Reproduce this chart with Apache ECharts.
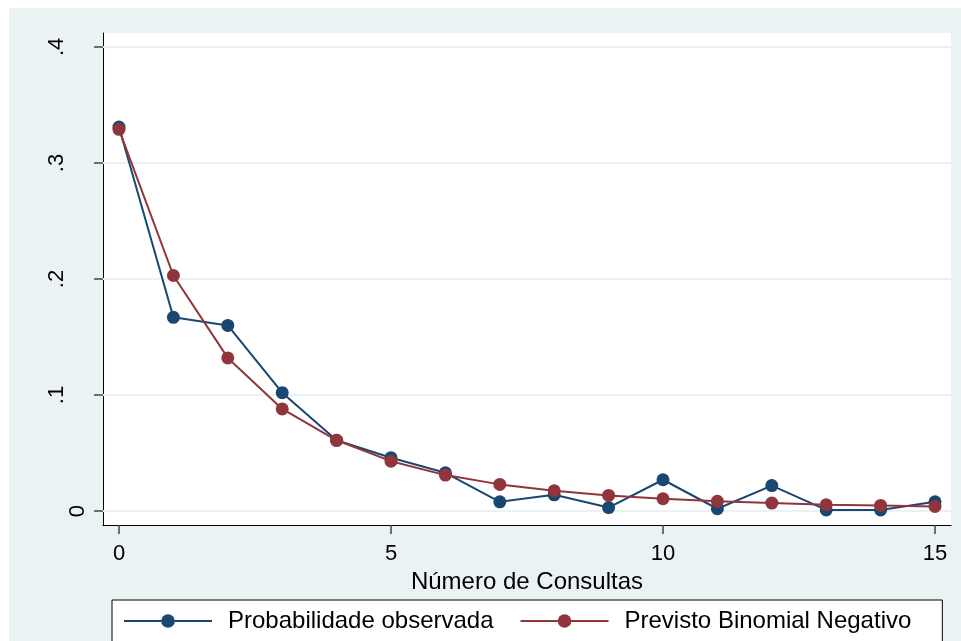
<!DOCTYPE html>
<html>
<head>
<meta charset="utf-8">
<script src="https://cdn.jsdelivr.net/npm/echarts@6/dist/echarts.min.js"></script>
<style>
  html, body { margin: 0; padding: 0; background: #ffffff; }
  #chart { position: absolute; left: 9px; top: 8px; width: 952px; height: 633px; }
</style>
</head>
<body>
<div id="chart"></div>
<script>
// Number of consultations (0..15)
const consultas = [0, 1, 2, 3, 4, 5, 6, 7, 8, 9, 10, 11, 12, 13, 14, 15];
// Observed probability
const observada = [0.331, 0.167, 0.160, 0.102, 0.061, 0.046, 0.033, 0.008,
                   0.014, 0.003, 0.027, 0.002, 0.022, 0.001, 0.001, 0.008];
// Negative binomial prediction
const previsto = [0.329, 0.203, 0.132, 0.088, 0.061, 0.043, 0.031, 0.023,
                  0.0175, 0.0135, 0.0106, 0.0084, 0.0069, 0.0054, 0.0049, 0.004];
// Tick positions and labels
const xTicks = [0, 5, 10, 15];
const yTicks = [0, 0.1, 0.2, 0.3, 0.4];
const yTickLabels = ['0', '.1', '.2', '.3', '.4'];

const FONT = '"Liberation Sans", Arial, Helvetica, sans-serif';
const BG = '#EAF2F3';

const chart = echarts.init(document.getElementById('chart'), null, { renderer: 'canvas' });

const pairs = (ys) => consultas.map((x, i) => [x, ys[i]]);

chart.setOption({
  animation: false,
  backgroundColor: BG,
  textStyle: { fontFamily: FONT },
  grid: {
    left: 94, top: 25, right: 10, bottom: 116,
    show: true, backgroundColor: '#ffffff', borderWidth: 0
  },
  xAxis: {
    type: 'value',
    min: -0.294, max: 15.294,
    name: 'Número de Consultas',
    nameLocation: 'middle',
    nameGap: 31,
    nameTextStyle: { fontSize: 24, color: '#000', fontFamily: FONT },
    axisLine: { show: true, onZero: false, lineStyle: { color: '#000', width: 1 } },
    axisTick: { show: true, customValues: xTicks, length: 9, lineStyle: { color: '#444', width: 1.5 } },
    axisLabel: {
      customValues: xTicks, margin: 18, fontSize: 22, color: '#000', fontFamily: FONT,
      formatter: (v) => String(v)
    },
    splitLine: { show: false }
  },
  yAxis: {
    type: 'value',
    min: -0.012, max: 0.412,
    axisLine: { show: true, onZero: false, lineStyle: { color: '#000', width: 1 } },
    axisTick: { show: true, customValues: yTicks, length: 9, lineStyle: { color: '#444', width: 1.5 } },
    axisLabel: {
      customValues: yTicks,
      rotate: 90,
      margin: 14,
      fontSize: 22, color: '#000', fontFamily: FONT,
      formatter: (v) => {
        const i = yTicks.findIndex((t) => Math.abs(t - v) < 1e-9);
        const txt = i >= 0 ? yTickLabels[i] : '';
        return v === 0 ? '{z|' + txt + '}' : '{n|' + txt + '}';
      },
      rich: {
        z: { fontSize: 22, color: '#000', fontFamily: FONT },
        n: { fontSize: 22, color: '#000', fontFamily: FONT, padding: [0, 0, 21, 0] }
      }
    },
    splitLine: { show: false }
  },
  legend: {
    data: ['Probabilidade observada', 'Previsto Binomial Negativo'],
    left: 103, top: 592,
    orient: 'horizontal',
    backgroundColor: '#ffffff',
    borderColor: '#000', borderWidth: 1, borderRadius: 0,
    padding: [9, 31, 9, 11],
    itemWidth: 88, itemHeight: 17, itemGap: 26,
    textStyle: { fontSize: 24, color: '#000', fontFamily: FONT, padding: [0, 0, 0, 11] }
  },
  series: [
    {
      // horizontal reference lines at the y ticks
      type: 'line',
      data: [],
      silent: true,
      markLine: {
        silent: true,
        z: 1,
        symbol: ['none', 'none'],
        label: { show: false },
        lineStyle: { color: BG, width: 2, type: 'solid' },
        emphasis: { disabled: true },
        data: yTicks.map((v) => ({ yAxis: v }))
      }
    },
    {
      name: 'Probabilidade observada',
      type: 'line',
      data: pairs(observada),
      symbol: 'circle', symbolSize: 13,
      z: 3,
      itemStyle: { color: '#1A476F' },
      lineStyle: { color: '#1A476F', width: 2 }
    },
    {
      name: 'Previsto Binomial Negativo',
      type: 'line',
      data: pairs(previsto),
      symbol: 'circle', symbolSize: 13,
      z: 4,
      itemStyle: { color: '#90353B' },
      lineStyle: { color: '#90353B', width: 2 }
    }
  ]
});
</script>
</body>
</html>
